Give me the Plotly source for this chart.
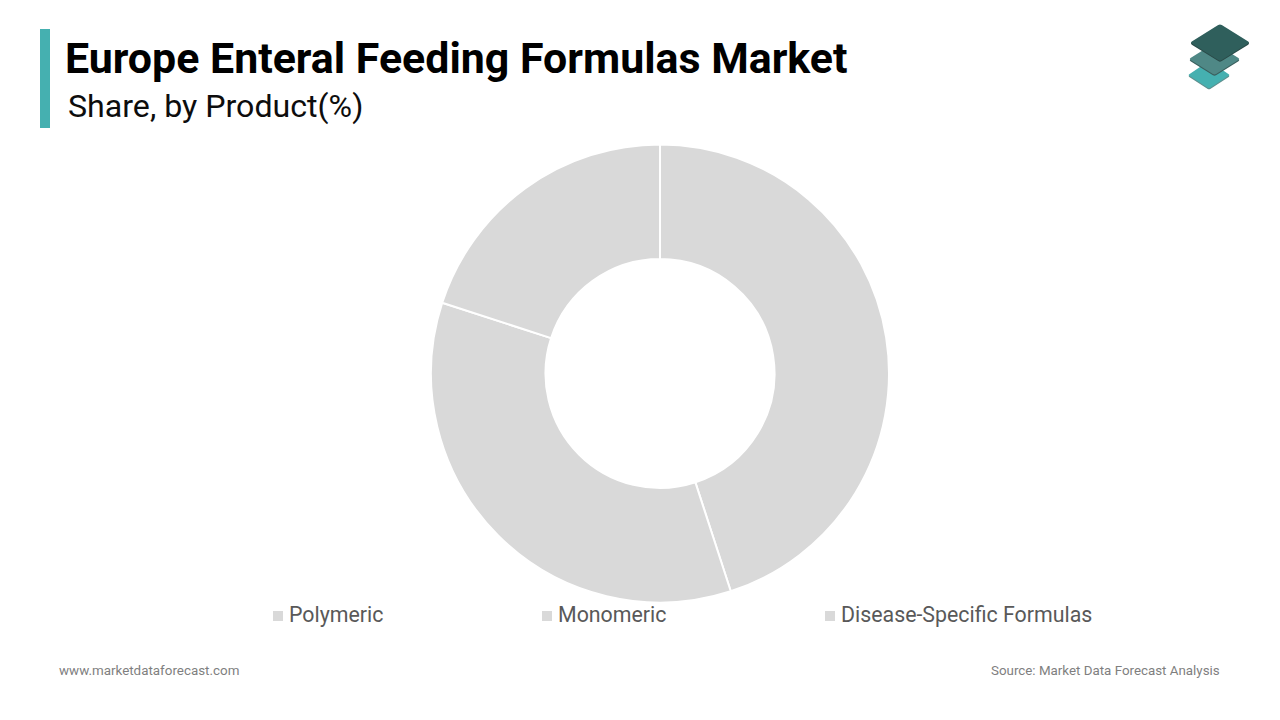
import plotly.graph_objects as go

# Chart content
TITLE = "Europe Enteral Feeding Formulas Market"
SUBTITLE = "Share, by Product(%)"
categories = ["Polymeric", "Monomeric", "Disease-Specific Formulas"]
shares = [45, 35, 20]
FOOT_LEFT = "www.marketdataforecast.com"
FOOT_RIGHT = "Source: Market Data Forecast Analysis"

W, H = 1280, 720
SLICE = "#d9d9d9"
LEGEND_TEXT = "#595959"
FOOT_TEXT = "#7f7f7f"
ACCENT = "#45b0b0"
FONT = "Roboto"


def px(x):
    return x / W


def py(y):
    return 1 - y / H


def text(x, y, s, size, color, anchor="left", bold=False):
    return dict(
        x=px(x), y=py(y), xref="paper", yref="paper", text=f"<b>{s}</b>" if bold else s,
        showarrow=False, xanchor=anchor, yanchor="middle",
        font=dict(family=FONT, size=size, color=color), borderpad=0, borderwidth=0,
    )


def rect(x0, y0, x1, y1, color):
    return dict(
        type="rect", xref="paper", yref="paper", x0=px(x0), x1=px(x1),
        y0=py(y1), y1=py(y0), fillcolor=color, line_width=0, layer="above",
    )


def diamond(left, top, right, bottom, color, round_frac=0.06):
    # Rhombus with softened corners; vertices given as (x, y) in page pixels
    pts = [left, top, right, bottom]
    n = len(pts)
    parts = []
    for i, p in enumerate(pts):
        prev, nxt = pts[i - 1], pts[(i + 1) % n]
        a = (p[0] + (prev[0] - p[0]) * round_frac, p[1] + (prev[1] - p[1]) * round_frac)
        b = (p[0] + (nxt[0] - p[0]) * round_frac, p[1] + (nxt[1] - p[1]) * round_frac)
        parts.append(f"{'M' if i == 0 else 'L'} {px(a[0]):.5f},{py(a[1]):.5f}")
        parts.append(f"Q {px(p[0]):.5f},{py(p[1]):.5f} {px(b[0]):.5f},{py(b[1]):.5f}")
    return dict(
        type="path", xref="paper", yref="paper", path=" ".join(parts) + " Z",
        fillcolor=color, line_width=0, layer="above",
    )


def layer(left, top, right, bottom, color, edge):
    # One logo plate: a thin dark edge under the coloured face
    shift = lambda p: (p[0], p[1] + 1.2)
    return [
        diamond(shift(left), shift(top), shift(right), shift(bottom), edge),
        diamond(left, top, right, bottom, color),
    ]


fig = go.Figure(
    go.Pie(
        labels=categories,
        values=shares,
        hole=0.5,
        sort=False,
        direction="clockwise",
        rotation=0,
        textinfo="none",
        hoverinfo="label+percent",
        marker=dict(colors=[SLICE] * 3, line=dict(color="#ffffff", width=2)),
        domain=dict(x=[px(431), px(889)], y=[py(602.5), py(144.5)]),
        showlegend=False,
    )
)

shapes = [rect(40, 29, 50, 128, ACCENT)]
# Stacked-plates logo, bottom plate first
shapes += layer((1188, 75), (1209, 61), (1230, 75), (1209, 88.5), ACCENT, "#5f8f8e")
shapes += layer((1189, 59), (1214.5, 43), (1240, 59), (1214.5, 75), "#4f8886", "#3a5f5d")
shapes += layer((1190, 42.5), (1220, 24), (1250, 42.5), (1220, 61), "#2f5f5c", "#2a4a48")

# Legend row
legend_x = [273, 542, 825]
annotations = [
    text(65, 58, TITLE, 42.9, "#000000", bold=True),
    text(67.7, 105.5, SUBTITLE, 32.15, "#0d0d0d"),
    text(59, 670.5, FOOT_LEFT, 13.4, FOOT_TEXT),
    text(1220, 670.5, FOOT_RIGHT, 13.35, FOOT_TEXT, anchor="right"),
]
for x, name in zip(legend_x, categories):
    shapes.append(rect(x, 611, x + 10, 621, SLICE))
    annotations.append(text(x + 16, 614.5, name, 21.35, LEGEND_TEXT))

fig.update_layout(
    width=W,
    height=H,
    margin=dict(l=0, r=0, t=0, b=0),
    paper_bgcolor="#ffffff",
    plot_bgcolor="#ffffff",
    shapes=shapes,
    annotations=annotations,
)

fig.write_html("out.html", config={"displayModeBar": False})
